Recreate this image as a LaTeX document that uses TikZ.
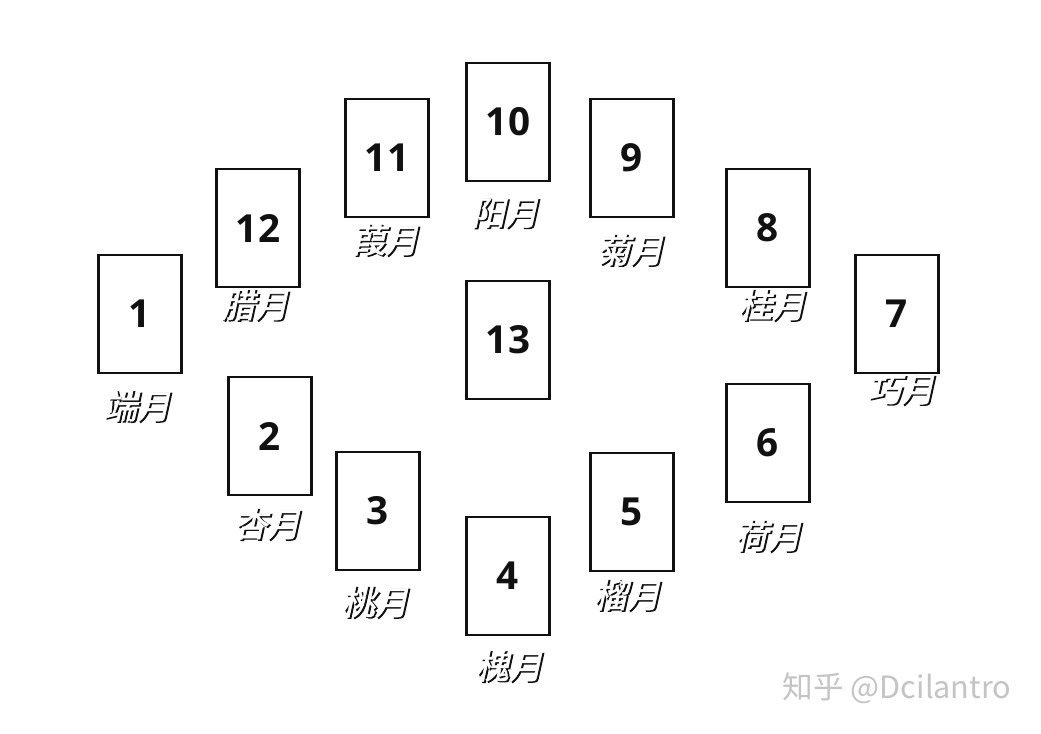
\documentclass[tikz,border=0pt]{standalone}
\usepackage{fontspec}
\setmainfont{Open Sans}
\newfontfamily\monthfont[FakeSlant=0.22,FakeBold=1.6]{Noto Sans CJK SC}
\newfontfamily\monthhalofont[FakeSlant=0.22,FakeBold=4]{Noto Sans CJK SC}
\newfontfamily\markfont{Noto Sans CJK SC}

\definecolor{ink}{HTML}{111111}
\definecolor{paper}{HTML}{FFFFFF}
\definecolor{markgray}{HTML}{C4C4C4}

\begin{document}
\begin{tikzpicture}[
  x=0.75pt,
  y=-0.75pt,
  card/.style={draw=ink,line width=1.9pt,fill=paper,minimum width=62pt,
    minimum height=88.5pt,inner sep=0pt,
    font=\bfseries\fontsize{29}{30}\selectfont,text=ink},
  monthhalo/.style={font=\monthhalofont\fontsize{25}{26}\selectfont,
    text=ink,inner sep=0pt},
  month/.style={font=\monthfont\fontsize{25}{26}\selectfont,
    text=paper,inner sep=0pt}
]
\useasboundingbox[fill=paper] (0,0) rectangle (1041,733);

% outer ring, counted from the left card
\node[card] (c1) at (140,314) {1};
\node[card] (c2) at (270,436) {2};
\node[card] (c3) at (378,511) {3};
\node[card] (c4) at (508,576) {4};
\node[card] (c5) at (632,512) {5};
\node[card] (c6) at (768,443) {6};
\node[card] (c7) at (897,314) {7};
\node[card] (c8) at (768,228) {8};
\node[card] (c9) at (632,158) {9};
\node[card] (c10) at (508,122) {10};
\node[card] (c11) at (387,158) {11};
\node[card] (c12) at (258,228) {12};
\node[card] (c13) at (508,340) {13};

% month names: black halo first, white letters on top
\node[monthhalo] (h1) at (138.5,407) {端月};
\node[month] (m1) at (137,406) {端月};
\node[monthhalo] (h2) at (268.5,525) {杏月};
\node[month] (m2) at (267,524) {杏月};
\node[monthhalo] (h3) at (376.5,603) {桃月};
\node[month] (m3) at (375,602) {桃月};
\node[monthhalo] (h4) at (510.5,667) {槐月};
\node[month] (m4) at (509,666) {槐月};
\node[monthhalo] (h5) at (628.5,596) {榴月};
\node[month] (m5) at (627,595) {榴月};
\node[monthhalo] (h6) at (769.5,537) {荷月};
\node[month] (m6) at (768,536) {荷月};
\node[monthhalo] (h7) at (902.5,391) {巧月};
\node[month] (m7) at (901,390) {巧月};
\node[monthhalo] (h8) at (773.5,306) {桂月};
\node[month] (m8) at (772,305) {桂月};
\node[monthhalo] (h9) at (631.5,251) {菊月};
\node[month] (m9) at (630,250) {菊月};
\node[monthhalo] (h10) at (506.5,214) {阳月};
\node[month] (m10) at (505,213) {阳月};
\node[monthhalo] (h11) at (386.5,241) {葭月};
\node[month] (m11) at (385,240) {葭月};
\node[monthhalo] (h12) at (256.5,306) {腊月};
\node[month] (m12) at (255,305) {腊月};

\node[font=\markfont\fontsize{23}{24}\selectfont,text=markgray,inner sep=0pt]
  (mark) at (897,688) {知乎 @Dcilantro};
\end{tikzpicture}
\end{document}
